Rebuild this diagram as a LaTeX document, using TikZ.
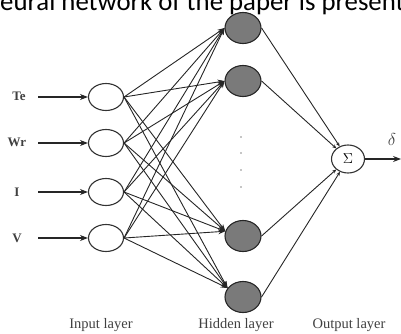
\documentclass[tikz,border=0pt]{standalone}
\usepackage{fontspec}
\setmainfont{Liberation Serif}
\newfontfamily\capfont{Carlito}
\usetikzlibrary{arrows.meta,shapes.geometric}
\begin{document}
\begin{tikzpicture}[x=1pt,y=-1pt,
  inode/.style={ellipse,draw=black!80,line width=1.1pt,fill=white,minimum width=35pt,minimum height=27pt,inner sep=0pt},
  hnode/.style={ellipse,draw=black!85,line width=1.1pt,fill=black!52,minimum width=36pt,minimum height=31pt,inner sep=0pt},
  onode/.style={ellipse,draw=black!80,line width=1.1pt,fill=white,minimum width=33pt,minimum height=28pt,inner sep=0pt,font=\fontsize{14}{14}\selectfont},
  lab/.style={text=black!75,font=\fontsize{13}{13}\selectfont\bfseries,inner sep=0pt},
  layer/.style={text=black!75,font=\fontsize{14.5}{14.5}\selectfont,inner sep=0pt},
  inarrow/.style={-{Stealth[length=8pt,width=6pt]},line width=1.1pt,draw=black!85},
  conn/.style={-{Stealth[length=7pt,width=5pt]},line width=0.9pt,draw=black!85},
  oconn/.style={-{Stealth[length=4pt,width=3.5pt]},line width=0.9pt,draw=black!85},
  dot/.style={circle,fill=black!45,inner sep=0pt,minimum size=1.8pt}]
\useasboundingbox (0,0) rectangle (401,334);
\clip (0,0) rectangle (401,334);
\node[anchor=base west,inner sep=0pt] (title) at (0,11) {\capfont\fontsize{26.8}{26.8}\selectfont eural network of the paper is present};
% input layer
\node[inode] (i1) at (106,97) {};
\node[inode] (i2) at (106,143) {};
\node[inode] (i3) at (106,192) {};
\node[inode] (i4) at (106,238) {};
\node[lab] (t1) at (19,96) {Te};
\node[lab] (t2) at (17,142) {Wr};
\node[lab] (t3) at (17,192) {I};
\node[lab] (t4) at (17,238) {V};
\coordinate (a1) at (38,97);
\coordinate (a2) at (38,143);
\coordinate (a3) at (38,192);
\coordinate (a4) at (38,238);
\foreach \k in {1,...,4} \draw[inarrow] (a\k) -- (i\k.west);
% hidden layer
\node[hnode] (h1) at (243,28) {};
\node[hnode] (h2) at (243,81) {};
\node[hnode] (h3) at (243,236) {};
\node[hnode] (h4) at (243,297) {};
\coordinate (e1) at (h1.west);
\coordinate (e2) at (h2.west);
\coordinate (e3) at (h3.165);
\coordinate (e4) at (h4.150);
\foreach \i in {1,...,4}{
  \foreach \j in {1,...,4}{
    \draw[conn] (i\i.east) -- (e\j);
  }
}
\node[dot] (d1) at (241,137) {};
\node[dot] (d2) at (241,153) {};
\node[dot] (d3) at (241,170) {};
\node[dot] (d4) at (241,187) {};
% output
\node[onode] (o) at (348,159) {$\Sigma$};
\foreach \j in {1,...,4} \draw[oconn] (h\j.east) -- (o);
\coordinate (oe) at (401,159);
\draw[inarrow] (o.east) -- (oe);
\node[lab,font=\fontsize{16}{16}\selectfont] (delta) at (392,139) {$\delta$};
% layer labels
\node[layer] (l1) at (101,325) {Input layer};
\node[layer] (l2) at (236,325) {Hidden layer};
\node[layer] (l3) at (349,325) {Output layer};
\end{tikzpicture}
\end{document}
